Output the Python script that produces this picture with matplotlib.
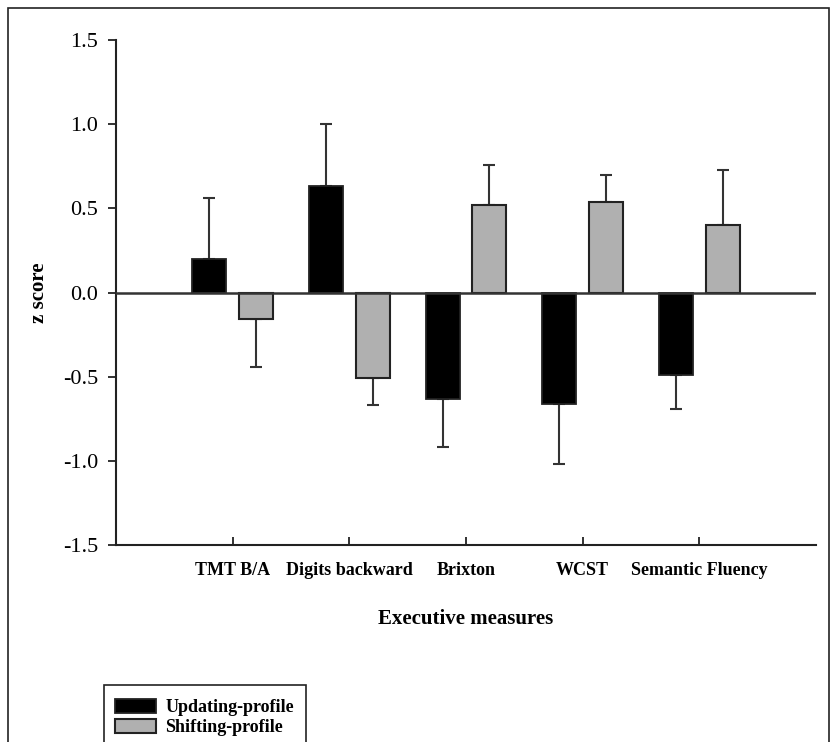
import matplotlib
matplotlib.use("Agg")
import matplotlib.pyplot as plt
from matplotlib.patches import Rectangle
import numpy as np

categories = ["TMT B/A", "Digits backward", "Brixton", "WCST", "Semantic Fluency"]
updating = [0.20, 0.63, -0.63, -0.66, -0.49]
updating_err = [0.36, 0.37, 0.29, 0.36, 0.20]
shifting = [-0.16, -0.51, 0.52, 0.54, 0.40]
shifting_err = [0.28, 0.16, 0.24, 0.16, 0.33]
yticks = [-1.5, -1.0, -0.5, 0.0, 0.5, 1.0, 1.5]
series_names = ["Updating-profile", "Shifting-profile"]

plt.rcParams['font.family'] = ['Liberation Serif', 'DejaVu Serif']

W, H = 839, 742
fig = plt.figure(figsize=(W / 100, H / 100), dpi=100)
ax = fig.add_axes([116 / W, 1 - 545 / H, (816 - 116) / W, (545 - 40) / H])

x = np.arange(1, len(categories) + 1)
bw = 0.29
off = 0.2
edge = '#222222'

def one_sided(vals, errs):
    lo = [e if v < 0 else 0 for v, e in zip(vals, errs)]
    hi = [e if v >= 0 else 0 for v, e in zip(vals, errs)]
    return [lo, hi]

b1 = ax.bar(x - off, updating, bw, color='black', edgecolor=edge, linewidth=1.3,
            label=series_names[0], zorder=3)
b2 = ax.bar(x + off, shifting, bw, color='#b0b0b0', edgecolor=edge, linewidth=1.5,
            label=series_names[1], zorder=3)
ax.errorbar(x - off, updating, yerr=one_sided(updating, updating_err), fmt='none',
            ecolor='#333333', elinewidth=1.5, capsize=4.5, capthick=1.5, zorder=2)
ax.errorbar(x + off, shifting, yerr=one_sided(shifting, shifting_err), fmt='none',
            ecolor='#333333', elinewidth=1.5, capsize=4.5, capthick=1.5, zorder=2)

ax.axhline(0, color='#333333', linewidth=1.8, zorder=4)

ax.set_xlim(0, 6)
ax.set_ylim(-1.5, 1.5)
ax.set_yticks(yticks)
ax.set_yticklabels([f"{t:.1f}" for t in yticks], fontsize=16)
ax.set_xticks(x)
ax.set_xticklabels(categories, fontsize=13, fontweight='bold')

for s in ['top', 'right']:
    ax.spines[s].set_visible(False)
for s in ['left', 'bottom']:
    ax.spines[s].set_linewidth(1.5)
    ax.spines[s].set_color('#222222')

ax.tick_params(axis='y', direction='out', length=6, width=1.3, pad=7, color='#222222')
ax.tick_params(axis='x', direction='in', length=6, width=1.3, pad=12, color='#222222')

ax.set_xlabel("Executive measures", fontsize=15, fontweight='bold', labelpad=22)
ax.set_ylabel("z score", fontsize=15, fontweight='bold', labelpad=10)

leg = fig.legend(handles=[b1, b2], labels=series_names, loc='upper left',
                 bbox_to_anchor=(104 / W, 1 - 688 / H), borderaxespad=0,
                 prop={'family': 'Liberation Serif', 'weight': 'bold', 'size': 13},
                 frameon=False,
                 handlelength=2.3, handleheight=0.8, handletextpad=0.5,
                 labelspacing=0.15, borderpad=0.6)

fig.patches.append(Rectangle((104 / W, -0.02), (306 - 104) / W, 0.02 + 1 - 685 / H,
                             transform=fig.transFigure, fill=False,
                             edgecolor='#222222', linewidth=1.2))

fig.patches.append(Rectangle((8 / W, -0.1), (829 - 8) / W, 1.1 - 8 / H,
                             transform=fig.transFigure, fill=False,
                             edgecolor='#222222', linewidth=1.2))

fig.savefig("out.png", dpi=100)
